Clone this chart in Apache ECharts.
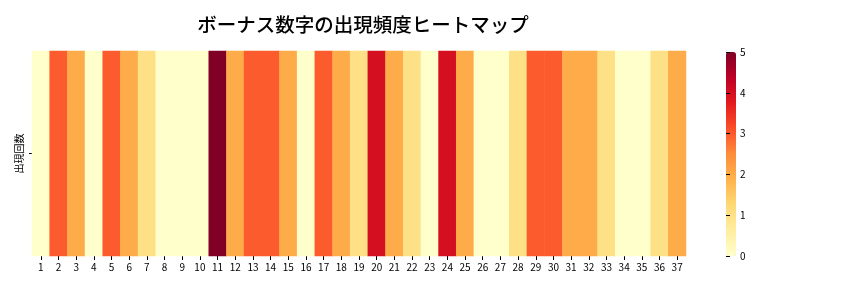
<!DOCTYPE html>
<html><head><meta charset="utf-8">
<script src="https://cdn.jsdelivr.net/npm/echarts@6/dist/echarts.min.js"></script>
<style>html,body{margin:0;padding:0;background:#fff}#c{width:864px;height:288px}</style>
</head><body><div id="c"></div>
<script>
const titleText = 'ボーナス数字の出現頻度ヒートマップ';
const categories = Array.from({length:37},(_,i)=>String(i+1));
const rowLabels = ['出現回数'];
const counts = [0,3,2,0,3,2,1,0,0,0,5,2,3,3,2,0,3,2,1,4,2,1,0,4,2,0,0,1,3,3,2,2,1,0,0,1,2];
const colorbarTicks = [0,1,2,3,4,5];
const ylorrd = ['#ffffcc','#ffeda0','#fed976','#feb24c','#fd8d3c','#fc4e2a','#e31a1c','#bd0026','#800026'];
const font = 'Noto Sans CJK JP';
const data = counts.map((v,i)=>[i,0,v]);
const chart = echarts.init(document.getElementById('c'));
chart.setOption({
  animation:false,
  backgroundColor:'#fff',
  textStyle:{fontFamily:font},
  title:{text:titleText,left:358,top:10,textAlign:'center',
    textStyle:{fontFamily:font,fontSize:19.5,fontWeight:500,color:'#000'}},
  grid:[
    {left:32,right:178,top:51,bottom:32},
    {left:726,width:10,top:52,height:204,z:10}
  ],
  xAxis:[
    {type:'category',data:categories,gridIndex:0,
      axisLine:{show:false},
      axisTick:{show:true,alignWithLabel:true,length:4,lineStyle:{color:'#000'}},
      axisLabel:{color:'#000',fontSize:10,margin:6,interval:0,fontFamily:font},
      splitLine:{show:false}},
    {type:'value',gridIndex:1,show:false}
  ],
  yAxis:[
    {type:'category',data:rowLabels,gridIndex:0,
      axisLine:{show:false},
      axisTick:{show:true,alignWithLabel:true,length:3,lineStyle:{color:'#000'}},
      axisLabel:{color:'#000',fontSize:10,rotate:90,margin:8,fontFamily:font},
      splitLine:{show:false}},
    {type:'value',gridIndex:1,min:0,max:5,interval:1,position:'right',z:20,
      axisLine:{show:false},
      axisTick:{show:true,length:4,lineStyle:{color:'#000'}},
      axisLabel:{color:'#000',fontSize:10,margin:4,fontFamily:font},
      splitLine:{show:false}}
  ],
  visualMap:{type:'continuous',min:0,max:5,calculable:false,z:1,
    left:726,top:52,itemWidth:10,itemHeight:204,padding:0,text:null,showLabel:false,
    inRange:{color:ylorrd},seriesIndex:0},
  series:[{type:'heatmap',xAxisIndex:0,yAxisIndex:0,data:data,itemStyle:{borderWidth:0}}]
});
</script></body></html>
